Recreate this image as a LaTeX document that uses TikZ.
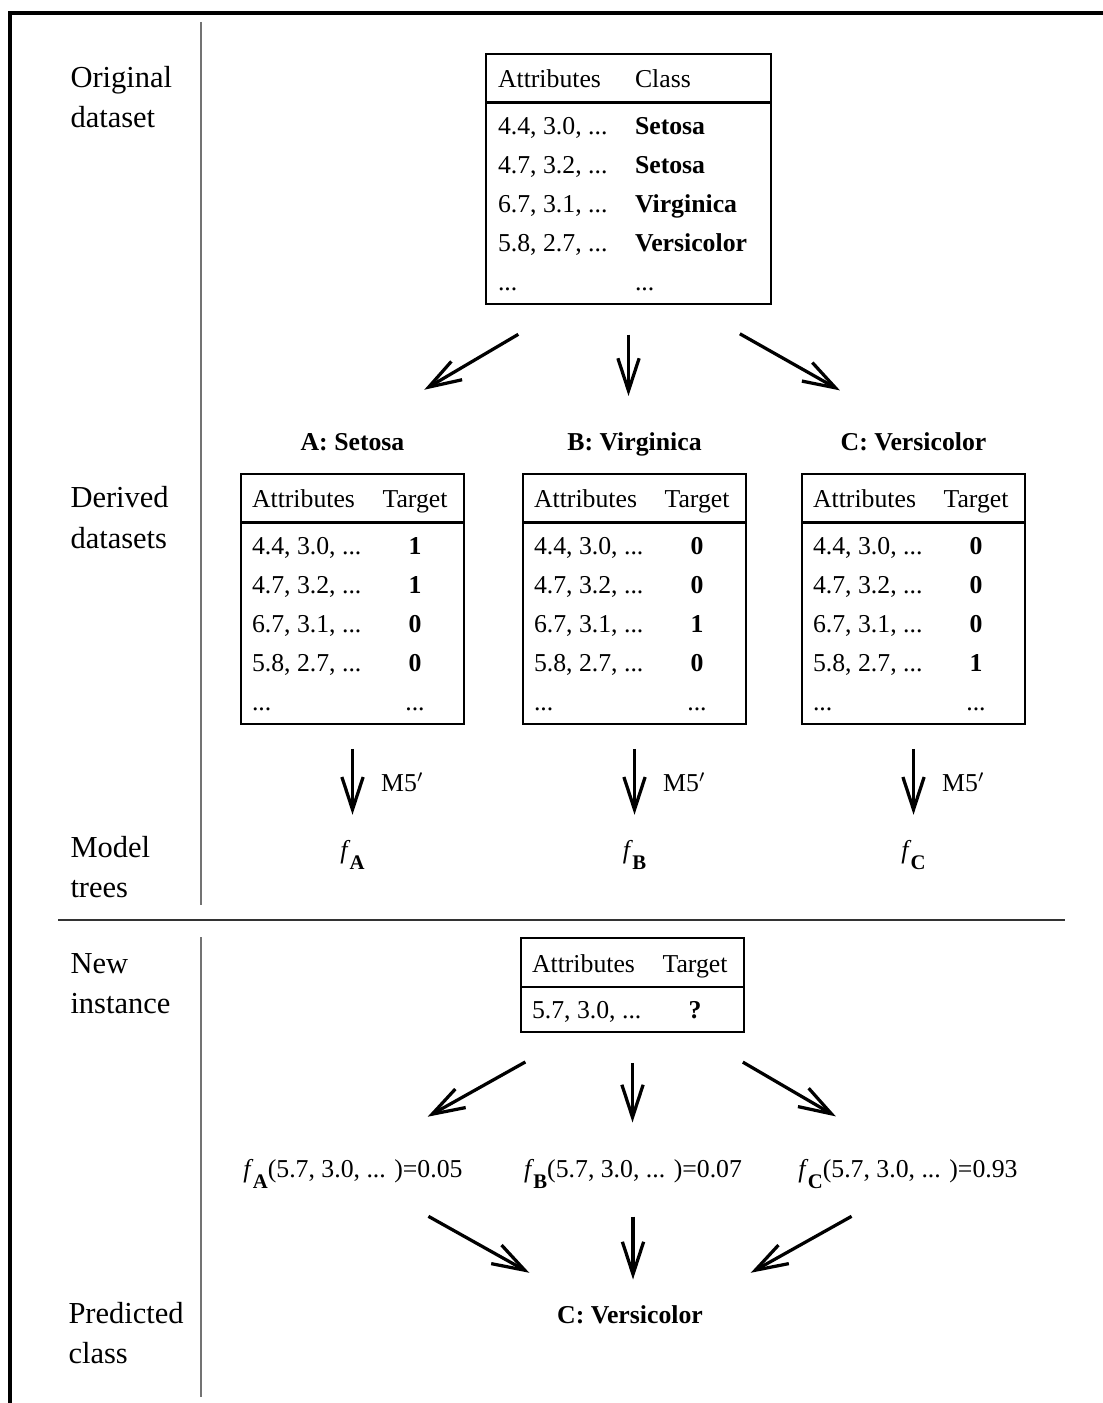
\documentclass[tikz,border=0pt]{standalone}
\usepackage{fontspec}
\setmainfont{Liberation Serif}
\usepackage{array}
\usetikzlibrary{arrows.meta,positioning,calc}

\setlength{\arrayrulewidth}{0.9pt}
\setlength{\tabcolsep}{0pt}
\renewcommand{\arraystretch}{0}
\newcommand{\tabfont}{\fontsize{10.3}{12.4}\selectfont}
\newcommand{\hrow}{\rule[-5.4pt]{0pt}{19pt}}
\newcommand{\brow}{\rule[-3.2pt]{0pt}{15.6pt}}
\newcommand{\lrow}{\rule[-5.2pt]{0pt}{17.6pt}}
\newcommand{\fsub}[1]{\textit{f}\kern-0.3pt\raisebox{-4.5pt}{\fontsize{8.3}{8.3}\selectfont\bfseries #1}}

\begin{document}
\begin{tikzpicture}[x=0.4pt, y=-0.4pt,
  tbl/.style={draw, line width=0.8pt, inner sep=0pt, font=\tabfont},
  ttl/.style={font=\tabfont\bfseries, inner sep=0pt, text height=7.2pt, text depth=2pt},
  val/.style={font=\tabfont, inner sep=0pt, text height=7.2pt, text depth=2pt},
  side/.style={font=\fontsize{12.2}{16}\selectfont, align=left, inner sep=0pt, anchor=base west},
  arr/.style={-{Straight Barb[length=13pt, width=8.5pt]}, line width=1.3pt},
  lbl/.style={font=\tabfont, inner sep=0pt},
  sep/.style={draw=black!55, line width=1.1pt},
]
  \useasboundingbox (0,0) rectangle (1103,1403);

  % --- frame and separators -----------------------------------------
  \draw[line width=1.6pt] (9.5,1403) -- (9.5,13) -- (1103,13);
  \draw[sep] (201,22) -- (201,905);
  \draw[sep] (201,937) -- (201,1397);
  \draw[line width=0.9pt, black!80] (58,920) -- (1065,920);

  % --- row labels, left (base = last line) ----------------------------
  \node[side] (lorig) at (70,128)  {Original\\dataset};
  \node[side] (lder)  at (70,548)  {Derived\\datasets};
  \node[side] (lmod)  at (70,897)  {Model\\trees};
  \node[side] (lnew)  at (70,1013) {New\\instance};
  \node[side] (lpred) at (68,1363) {Predicted\\class};

  % --- original dataset ---------------------------------------------
  \node[tbl, anchor=north west] (orig) at (485,53) {%
    \begin{tabular}{@{\hspace{4.8pt}}w{l}{54.8pt}w{l}{54.4pt}@{}}
      \hrow Attributes & Class\\ \hline
      \brow 4.4, 3.0, ... & \textbf{Setosa}\\
      \brow 4.7, 3.2, ... & \textbf{Setosa}\\
      \brow 6.7, 3.1, ... & \textbf{Virginica}\\
      \brow 5.8, 2.7, ... & \textbf{Versicolor}\\
      \lrow ... & ...
    \end{tabular}};

  % --- derived datasets ---------------------------------------------
  \node[tbl, anchor=north west] (tA) at (240,473) {%
    \begin{tabular}{@{\hspace{4.4pt}}w{l}{45.6pt}w{c}{39.2pt}@{}}
      \hrow Attributes & Target\\ \hline
      \brow 4.4, 3.0, ... & \textbf{1}\\
      \brow 4.7, 3.2, ... & \textbf{1}\\
      \brow 6.7, 3.1, ... & \textbf{0}\\
      \brow 5.8, 2.7, ... & \textbf{0}\\
      \lrow ... & ...
    \end{tabular}};
  \node[tbl, right=22.8pt of tA] (tB) {%
    \begin{tabular}{@{\hspace{4.4pt}}w{l}{45.6pt}w{c}{39.2pt}@{}}
      \hrow Attributes & Target\\ \hline
      \brow 4.4, 3.0, ... & \textbf{0}\\
      \brow 4.7, 3.2, ... & \textbf{0}\\
      \brow 6.7, 3.1, ... & \textbf{1}\\
      \brow 5.8, 2.7, ... & \textbf{0}\\
      \lrow ... & ...
    \end{tabular}};
  \node[tbl, right=21.6pt of tB] (tC) {%
    \begin{tabular}{@{\hspace{4.4pt}}w{l}{45.6pt}w{c}{39.2pt}@{}}
      \hrow Attributes & Target\\ \hline
      \brow 4.4, 3.0, ... & \textbf{0}\\
      \brow 4.7, 3.2, ... & \textbf{0}\\
      \brow 6.7, 3.1, ... & \textbf{0}\\
      \brow 5.8, 2.7, ... & \textbf{1}\\
      \lrow ... & ...
    \end{tabular}};
  \node[ttl, above=6.8pt of tA] (nA) {A: Setosa};
  \node[ttl, above=6.8pt of tB] (nB) {B: Virginica};
  \node[ttl, above=6.8pt of tC] (nC) {C: Versicolor};

  \draw[arr, shorten <=23.3pt, shorten >=33.3pt] ([xshift=-24pt]orig.south) -- (nA.north);
  \draw[arr, shorten <=12pt, shorten >=14.4pt] (orig.south) -- (orig.south |- nB.north);
  \draw[arr, shorten <=23.6pt, shorten >=33.8pt] ([xshift=24pt]orig.south) -- (nC.north);

  % --- model trees --------------------------------------------------
  \node[val, below=46pt of tA] (fA) {\fsub{A}};
  \node[val, below=46pt of tB] (fB) {\fsub{B}};
  \node[val, below=46pt of tC] (fC) {\fsub{C}};

  \draw[arr, shorten <=9.6pt, shorten >=10pt] (tA.south) -- node[lbl, right=10.8pt] {M5$'$} (tA.south |- fA.north);
  \draw[arr, shorten <=9.6pt, shorten >=10pt] (tB.south) -- node[lbl, right=10.8pt] {M5$'$} (tB.south |- fB.north);
  \draw[arr, shorten <=9.6pt, shorten >=10pt] (tC.south) -- node[lbl, right=10.8pt] {M5$'$} (tC.south |- fC.north);

  % --- new instance -------------------------------------------------
  \node[tbl, anchor=north west] (nt) at (520,937) {%
    \begin{tabular}{@{\hspace{4.4pt}}w{l}{45.6pt}w{c}{39.2pt}@{}}
      \hrow Attributes & Target\\ \hline
      \lrow 5.7, 3.0, ... & \textbf{?}
    \end{tabular}};

  \node[val, anchor=base] (vA) at (353,1177) {\fsub{A}(5.7, 3.0, ... )=0.05};
  \node[val, anchor=base] (vB) at (633,1177) {\fsub{B}(5.7, 3.0, ... )=0.07};
  \node[val, anchor=base] (vC) at (908,1177) {\fsub{C}(5.7, 3.0, ... )=0.93};

  \draw[arr, shorten <=23.9pt, shorten >=34.2pt] ([xshift=-22pt]nt.south) -- (vA.north);
  \draw[arr, shorten <=12pt, shorten >=14.4pt] (nt.south) -- (nt.south |- vB.north);
  \draw[arr, shorten <=23.3pt, shorten >=33.4pt] ([xshift=24pt]nt.south) -- (vC.north);

  % --- predicted class ----------------------------------------------
  \node[ttl, anchor=base] (res) at (630,1323) {C: Versicolor};

  \draw[arr, shorten <=27.7pt, shorten >=26pt] ([xshift=6pt]vA.south) -- ([xshift=-17.6pt]res.north);
  \draw[arr, shorten <=13.6pt, shorten >=10pt] (vB.south) -- (vB.south |- res.north);
  \draw[arr, shorten <=27.7pt, shorten >=26pt] ([xshift=1.6pt]vC.south) -- ([xshift=25.6pt]res.north);
\end{tikzpicture}
\end{document}
